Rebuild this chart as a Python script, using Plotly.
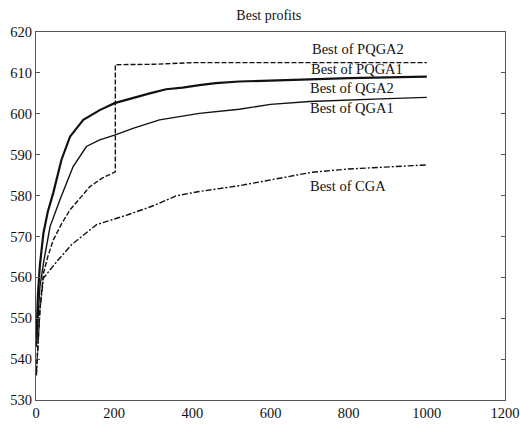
import plotly.graph_objects as go

# ---- data ----
pqga2_x = [1, 10, 19, 30, 44, 65, 87, 110, 138, 170, 203, 203, 250, 300, 400, 500, 600, 700, 800, 900, 1000]
pqga2_y = [537, 552, 561, 565, 569.1, 573, 576.5, 579, 582.2, 584.3, 585.8, 612, 612, 612.1, 612.5, 612.5, 612.5, 612.5, 612.5, 612.5, 612.5]

pqga1_x = [1, 5, 10, 19, 30, 44, 65, 87, 121, 163, 201, 250, 291, 333, 375, 418, 460, 520, 600, 700, 800, 900, 1000]
pqga1_y = [545, 556, 563, 570.8, 576, 580.6, 588.7, 594.4, 598.5, 600.9, 602.6, 604, 605, 606, 606.4, 607, 607.5, 607.9, 608.2, 608.4, 608.7, 608.9, 609.1]

qga2_x = [1, 10, 20, 36, 61, 95, 129, 163, 201, 250, 316, 418, 520, 600, 700, 800, 900, 1000]
qga2_y = [543, 557.7, 564, 572.4, 578.9, 587.1, 592, 593.6, 594.8, 596.5, 598.5, 600.1, 601.1, 602.3, 603, 603.4, 603.7, 604.0]

cga_x = [1, 10, 19, 57, 91, 155, 235, 300, 358, 418, 520, 600, 706, 800, 900, 1000]
cga_y = [536, 552, 559.8, 564.3, 568, 572.9, 575.3, 577.5, 579.9, 581, 582.4, 583.8, 585.7, 586.5, 587, 587.5]

label_texts = ["Best of PQGA2", "Best of PQGA1", "Best of QGA2", "Best of QGA1", "Best of CGA"]
label_x = [702, 698, 696, 696, 696]
label_y = [615.8, 610.9, 606.4, 601.3, 582.4]

x_ticks = [0, 200, 400, 600, 800, 1000, 1200]
y_ticks = [530, 540, 550, 560, 570, 580, 590, 600, 610, 620]

FONT = "Liberation Serif, Times New Roman, serif"
INK = "#111111"

fig = go.Figure()
fig.add_trace(go.Scatter(x=pqga2_x, y=pqga2_y, mode="lines", name="Best of PQGA2",
                         line=dict(color=INK, width=1.4, dash="5px,2px")))
fig.add_trace(go.Scatter(x=pqga1_x, y=pqga1_y, mode="lines", name="Best of PQGA1",
                         line=dict(color=INK, width=2.2)))
fig.add_trace(go.Scatter(x=qga2_x, y=qga2_y, mode="lines", name="Best of QGA2",
                         line=dict(color=INK, width=1.4)))
fig.add_trace(go.Scatter(x=cga_x, y=cga_y, mode="lines", name="Best of CGA",
                         line=dict(color=INK, width=1.4, dash="6px,2px,2px,2px")))

for t, x, y in zip(label_texts, label_x, label_y):
    fig.add_annotation(x=x, y=y, text=t, showarrow=False, xanchor="left", yanchor="middle",
                       font=dict(family=FONT, size=14.5, color=INK))

fig.update_layout(
    width=520, height=426,
    margin=dict(l=36, r=15, t=32, b=26),
    paper_bgcolor="white", plot_bgcolor="white",
    showlegend=False,
    font=dict(family=FONT, size=14.5, color=INK),
    title=dict(text="Best profits", x=0.517, xanchor="center", y=1 - 15 / 426, yanchor="middle",
               font=dict(family=FONT, size=14, color=INK)),
)
fig.update_xaxes(range=[0, 1200], tickvals=x_ticks, ticktext=[str(v) for v in x_ticks],
                 showgrid=False, zeroline=False, showline=True, linecolor="#555555", linewidth=1,
                 mirror=True, ticks="", automargin=False,
                 tickfont=dict(family=FONT, size=14.5, color=INK))
fig.update_yaxes(range=[530, 620], tickvals=y_ticks, ticktext=[str(v) for v in y_ticks],
                 showgrid=False, zeroline=False, showline=True, linecolor="#555555", linewidth=1,
                 mirror="ticks", ticks="inside", ticklen=4, tickcolor="#555555", automargin=False,
                 tickfont=dict(family=FONT, size=14.5, color=INK))

fig.write_html("out.html")
